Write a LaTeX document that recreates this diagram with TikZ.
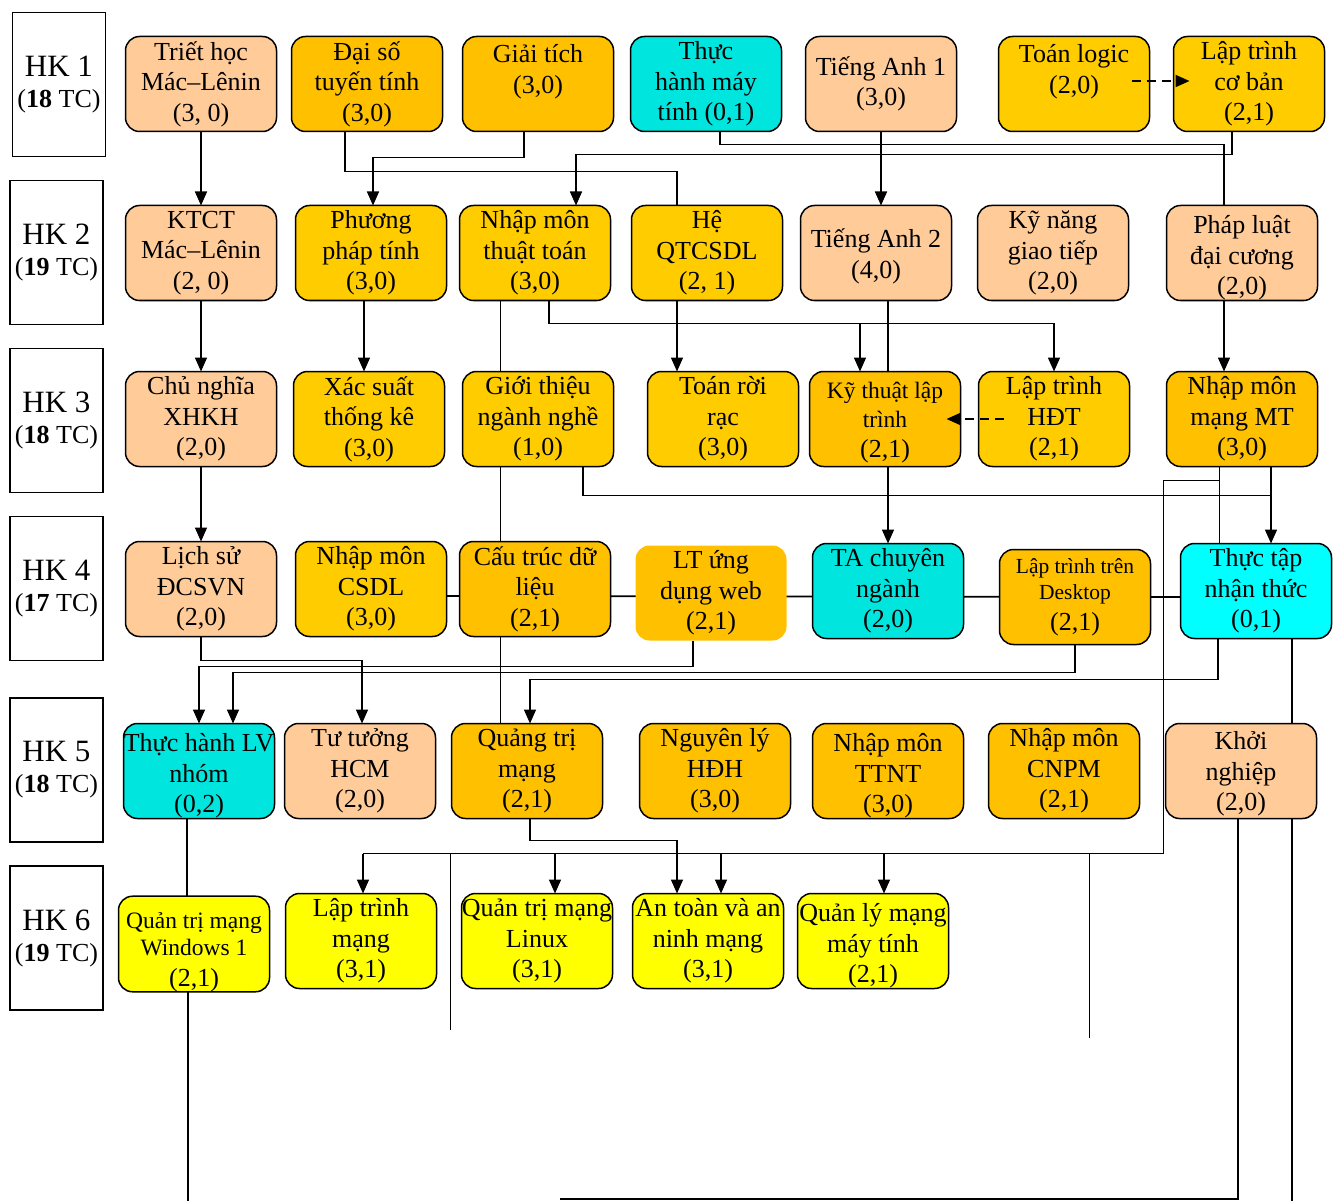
\documentclass[tikz,border=0pt]{standalone}
\usepackage{fontspec}
\setmainfont{Liberation Serif}
\usepackage{tikz}
\usetikzlibrary{arrows.meta, positioning, backgrounds}

\definecolor{peach}{HTML}{FFCC99}
\definecolor{gold}{HTML}{FFC000}
\definecolor{amber}{HTML}{FFCC00}
\definecolor{turq}{HTML}{00E6DE}
\definecolor{aqua}{HTML}{00FFFF}
\definecolor{lemon}{HTML}{FFFF00}
\newcommand{\smalltxt}[1]{{\fontsize{23.5}{27}\selectfont #1}}
\newcommand{\tinytxt}[1]{{\fontsize{21.5}{25}\selectfont #1}}
\newcommand{\txtdrop}[1]{\rule{0pt}{#1}}

\begin{document}
\begin{tikzpicture}[x=1pt, y=-1pt,
	hk/.style={draw, line width=1.4pt, minimum width=93pt, minimum height=144pt, inner sep=0pt, outer sep=0pt, align=center, font=\fontsize{26}{31}\selectfont},
	course/.style={draw, line width=1.5pt, rounded corners=14pt, minimum width=151pt, minimum height=95pt, inner sep=0pt, outer sep=0pt, align=center, font=\fontsize{26}{30.5}\selectfont},
	conn/.style={line width=1.6pt},
	thinconn/.style={line width=0.8pt},
	prereq/.style={dashed, dash pattern=on 9pt off 6pt, line width=2pt},
	>={Triangle[length=14pt, width=12pt]}]
	\useasboundingbox (0,0) rectangle (1334,1201);

	% hoc ky
	\node[hk] (hk1) at (59,84.5) {{\fontsize{31}{36}\selectfont HK 1}\\(\textbf{18} TC)};
	\node[hk] (hk2) at (56.5,252.5) {{\fontsize{31}{36}\selectfont HK 2}\\(\textbf{19} TC)};
	\node[hk] (hk3) at (56.5,420.5) {{\fontsize{31}{36}\selectfont HK 3}\\(\textbf{18} TC)};
	\node[hk] (hk4) at (56.5,588.5) {{\fontsize{31}{36}\selectfont HK 4}\\(\textbf{17} TC)};
	\node[hk] (hk5) at (56.5,770) {{\fontsize{31}{36}\selectfont HK 5}\\(\textbf{18} TC)};
	\node[hk] (hk6) at (56.5,938) {{\fontsize{31}{36}\selectfont HK 6}\\(\textbf{19} TC)};

	% HK 1
	\node[course, fill=peach] (th1) at (201,84) {Triết học\\Mác–Lênin\\(3, 0)};
	\node[course, fill=gold, right=15pt of th1] (ds) {Đại số\\tuyến tính\\(3,0)};
	\node[course, fill=gold, right=20pt of ds] (gt) {Giải tích\\(3,0)\\\mbox{}};
	\node[course, fill=turq, right=17pt of gt] (thmt) {Thực\\hành máy\\tính (0,1)};
	\node[course, fill=peach, right=24pt of thmt] (ta1) {Tiếng Anh 1\\(3,0)};
	\node[course, fill=amber, right=42pt of ta1] (tl) {Toán logic\\(2,0)\\\mbox{}};
	\node[course, fill=amber, right=24pt of tl] (ltcb) {Lập trình\\cơ bản\\(2,1)};

	% HK 2
	\node[course, fill=peach] (ktct) at (201,253) {KTCT\\Mác–Lênin\\(2, 0)};
	\node[course, fill=amber, right=19pt of ktct] (ppt) {Phương\\pháp tính\\(3,0)};
	\node[course, fill=amber, right=13pt of ppt] (nmtt) {Nhập môn\\thuật toán\\(3,0)};
	\node[course, fill=amber, right=21pt of nmtt] (hqt) {Hệ\\QTCSDL\\(2, 1)};
	\node[course, fill=peach, right=18pt of hqt] (ta2) {\txtdrop{26pt}Tiếng Anh 2\\(4,0)};
	\node[course, fill=peach, right=26pt of ta2] (knt) {Kỹ năng\\giao tiếp\\(2,0)};
	\node[course, fill=peach, right=38pt of knt] (pl) {\txtdrop{28pt}Pháp luật\\đại cương\\(2,0)};

	% HK 3
	\node[course, fill=peach] (cnxh) at (201,419) {Chủ nghĩa\\XHKH\\(2,0)};
	\node[course, fill=amber, right=17pt of cnxh] (xstk) {Xác suất\\thống kê\\(3,0)};
	\node[course, fill=amber, right=18pt of xstk] (gtn) {Giới thiệu\\ngành nghề\\(1,0)};
	\node[course, fill=amber, right=34pt of gtn] (trr) {Toán rời\\rạc\\(3,0)};
	\node[course, fill=gold, right=11pt of trr] (ktlt) {\txtdrop{24pt}\smalltxt{Kỹ thuật lập}\\[-2pt]\smalltxt{trình}\\(2,1)};
	\node[course, fill=amber, right=18pt of ktlt] (lthdt) {Lập trình\\HĐT\\(2,1)};
	\node[course, fill=gold, right=37pt of lthdt] (nmm) {Nhập môn\\mạng MT\\(3,0)};

	% HK 4
	\node[course, fill=peach] (ls) at (201,589) {Lịch sử\\ĐCSVN\\(2,0)};
	\node[course, fill=amber, right=19pt of ls] (csdl) {Nhập môn\\CSDL\\(3,0)};
	\node[course, fill=gold, right=13pt of csdl] (ctdl) {Cấu trúc dữ\\liệu\\(2,1)};
	\node[course, draw=none, fill=gold, right=25pt of ctdl, yshift=-4pt] (ltw) {LT ứng\\dụng web\\(2,1)};
	\node[course, fill=turq, right=26pt of ltw, yshift=2pt] (tacn) {TA chuyên\\ngành\\(2,0)};
	\node[course, fill=gold, right=36pt of tacn, yshift=-6pt] (ltd) {\tinytxt{Lập trình trên}\\[-4pt]\tinytxt{Desktop}\\(2,1)};
	\node[course, fill=aqua, right=30pt of ltd, yshift=6pt] (ttnt) {Thực tập\\nhận thức\\(0,1)};

	% HK 5
	\node[course, fill=turq] (thlv) at (199,771) {\txtdrop{28pt}Thực hành LV\\nhóm\\(0,2)};
	\node[course, fill=peach, right=10pt of thlv] (tthcm) {Tư tưởng\\HCM\\(2,0)};
	\node[course, fill=gold, right=16pt of tthcm] (qtm) {Quảng trị\\mạng\\(2,1)};
	\node[course, fill=gold, right=37pt of qtm] (nlh) {Nguyên lý\\HĐH\\(3,0)};
	\node[course, fill=gold, right=22pt of nlh] (ttn) {\txtdrop{28pt}Nhập môn\\TTNT\\(3,0)};
	\node[course, fill=gold, right=25pt of ttn] (cnpm) {Nhập môn\\CNPM\\(2,1)};
	\node[course, fill=peach, right=26pt of cnpm] (kn) {\txtdrop{24pt}Khởi\\nghiệp\\(2,0)};

	% HK 6
	\node[course, fill=lemon] (qtw) at (194,944) {\txtdrop{32pt}\smalltxt{Quản trị mạng}\\[-3pt]\smalltxt{Windows 1}\\(2,1)};
	\node[course, fill=lemon, right=16pt of qtw, yshift=3pt] (ltm) {Lập trình\\mạng\\(3,1)};
	\node[course, fill=lemon, right=25pt of ltm] (qtl) {Quản trị mạng\\Linux\\(3,1)};
	\node[course, fill=lemon, right=20pt of qtl] (atm) {An toàn và an\\ninh mạng\\(3,1)};
	\node[course, fill=lemon, right=14pt of atm] (qlm) {\txtdrop{28pt}Quản lý mạng\\máy tính\\(2,1)};

	\coordinate (e1) at (1292,1201);
	\coordinate (e2) at (560,1199);
	\coordinate (e3) at (188,1201);
	\coordinate (s1) at (450,853);
	\coordinate (s2) at (450,1030);
	\coordinate (s3) at (1089,853);
	\coordinate (s4) at (1089,1038);

	\begin{scope}[on background layer]
		% HK 1 -> HK 2
		\draw[conn, ->] (th1) -- (ktct);
		\draw[conn] ([xshift=-22pt]ds.south) |- ([xshift=-30pt, yshift=34pt]hqt.north) -- ([xshift=-30pt]hqt.north);
		\draw[conn, ->] ([xshift=-14pt]gt.south) |- ([xshift=2pt, yshift=48pt]ppt.north) -- ([xshift=2pt]ppt.north);
		\draw[conn, ->] ([xshift=-17pt]ltcb.south) |- ([xshift=41pt, yshift=51pt]nmtt.north) -- ([xshift=41pt]nmtt.north);
		\draw[conn] ([xshift=14pt]thmt.south) |- ([xshift=-18pt, yshift=61pt]pl.north) -- ([xshift=-18pt]pl.north);
		\draw[conn, ->] (ta1.south) -- (ta1.south |- ta2.north);
		% HK 2 -> HK 3
		\draw[conn, ->] (ktct) -- (cnxh);
		\draw[conn, ->] ([xshift=-7pt]ppt.south) -- ([xshift=-7pt]ppt.south |- xstk.north);
		\draw[thinconn] ([xshift=-35pt]nmtt.south) -- ([xshift=-35pt]nmtt.south |- qtm.north);
		\draw[conn, ->] ([xshift=14pt]nmtt.south) |- ([yshift=48pt]lthdt.north) -- (lthdt.north);
		\draw[conn, ->] ([xshift=-25pt, yshift=48pt]ktlt.north) -- ([xshift=-25pt]ktlt.north);
		\draw[conn, ->] ([xshift=-30pt]hqt.south) -- ([xshift=-30pt]hqt.south |- trr.north);
		\draw[conn, ->] (ta2.south -| tacn.north) -- (tacn.north);
		\draw[conn, ->] ([xshift=-18pt]pl.south) -- ([xshift=-18pt]nmm.north);
		% HK 3 -> HK 4
		\draw[conn, ->] (cnxh) -- (ls);
		\draw[conn, ->] ([xshift=45pt]gtn.south) |- ([xshift=15pt, yshift=48pt]ttnt.north) -- ([xshift=15pt]ttnt.north);
		\draw[conn] ([xshift=29pt]nmm.south) -- ([xshift=15pt, yshift=48pt]ttnt.north);
		\draw[thinconn] ([xshift=-23pt]nmm.south) -- ([xshift=-37pt]ttnt.north);
		\draw[thinconn] ([xshift=-23pt, yshift=-14pt]nmm.south) -- ++(-56,0) |- ([xshift=2pt, yshift=40pt]ltm.north);
		\draw[conn] ([yshift=-7pt]csdl.east) -- ([yshift=-6pt]ttnt.west);
		% HK 4 -> HK 5
		\draw[conn, ->] (ls.south) |- ([xshift=2pt, yshift=63pt]tthcm.north) -- ([xshift=2pt]tthcm.north);
		\draw[conn, ->] ([xshift=-18pt]ltw.south) |- ([yshift=57pt]thlv.north) -- (thlv.north);
		\draw[conn, ->] (ltd.south) |- ([xshift=34pt, yshift=51pt]thlv.north) -- ([xshift=34pt]thlv.north);
		\draw[conn, ->] ([xshift=-38pt]ttnt.south) |- ([xshift=3pt, yshift=44pt]qtm.north) -- ([xshift=3pt]qtm.north);
		\draw[conn] ([xshift=36pt]ttnt.south) -- ([xshift=36pt]ttnt.south |- e1);
		% HK 5 -> HK 6
		\draw[conn] ([xshift=-12pt]thlv.south) -- ([xshift=-12pt]thlv.south |- qtw.north);
		\draw[conn, ->] ([xshift=3pt]qtm.south) |- ([xshift=-31pt, yshift=53pt]atm.north) -- ([xshift=-31pt]atm.north);
		\draw[conn, ->] ([xshift=2pt, yshift=40pt]ltm.north) -- ([xshift=2pt]ltm.north);
		\draw[conn, ->] ([xshift=18pt, yshift=40pt]qtl.north) -- ([xshift=18pt]qtl.north);
		\draw[conn, ->] ([xshift=13pt, yshift=40pt]atm.north) -- ([xshift=13pt]atm.north);
		\draw[conn, ->] ([xshift=11pt, yshift=40pt]qlm.north) -- ([xshift=11pt]qlm.north);
		\draw[conn] ([xshift=-6pt]qtw.south) -- ([xshift=-6pt]qtw.south |- e3);
		\draw[conn] ([xshift=-3pt]kn.south) |- (e2);
		\draw[thinconn] (s1) -- (s2);
		\draw[thinconn] (s3) -- (s4);
	\end{scope}

	% tien quyet
	\draw[prereq, ->] ([xshift=-18pt, yshift=3pt]tl.east) -- ([xshift=16pt, yshift=3pt]ltcb.west);
	\draw[prereq, ->] ([xshift=25pt]lthdt.west) -- ([xshift=-14pt]ktlt.east);
\end{tikzpicture}
\end{document}
